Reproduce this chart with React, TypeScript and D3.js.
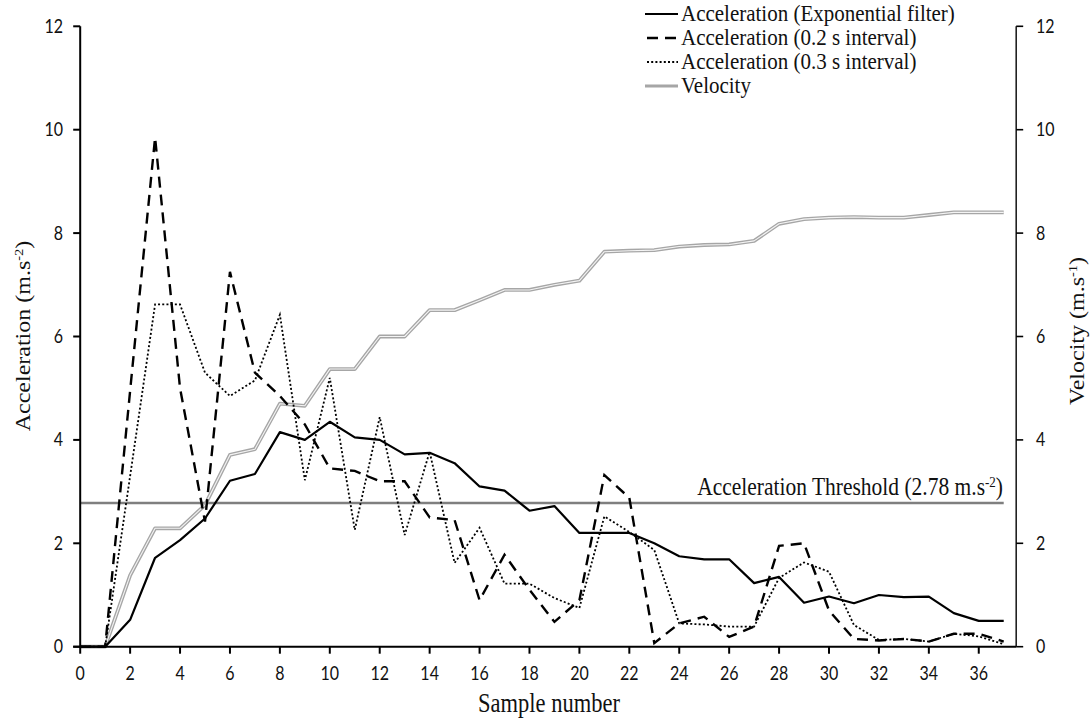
import React from "react";
import * as d3 from "d3";

const samples = d3.range(0, 38);
const expFilter = [0, 0, 0.52, 1.72, 2.06, 2.48, 3.21, 3.34, 4.15, 4.0, 4.35, 4.05, 4.0, 3.72, 3.75, 3.55, 3.1, 3.02, 2.63, 2.72, 2.2, 2.2, 2.2, 2.0, 1.75, 1.69, 1.69, 1.23, 1.35, 0.85, 0.97, 0.84, 1.0, 0.96, 0.97, 0.65, 0.5, 0.5];
const acc02 = [0, 0, 4.95, 9.85, 5.0, 2.42, 7.25, 5.3, 4.85, 4.3, 3.45, 3.4, 3.2, 3.2, 2.5, 2.45, 0.9, 1.78, 1.1, 0.48, 0.9, 3.32, 2.88, 0.07, 0.45, 0.58, 0.19, 0.39, 1.95, 2.0, 0.7, 0.15, 0.12, 0.15, 0.1, 0.25, 0.25, 0.1];
const acc03 = [0, 0, 3.3, 6.62, 6.62, 5.3, 4.85, 5.15, 6.42, 3.22, 5.2, 2.26, 4.44, 2.16, 3.77, 1.62, 2.3, 1.22, 1.22, 0.94, 0.75, 2.52, 2.22, 1.87, 0.45, 0.43, 0.39, 0.39, 1.33, 1.63, 1.45, 0.42, 0.13, 0.15, 0.1, 0.25, 0.2, 0.05];
const velocity = [0, 0, 1.38, 2.29, 2.29, 2.74, 3.71, 3.82, 4.7, 4.66, 5.37, 5.37, 6.0, 6.0, 6.51, 6.51, 6.7, 6.9, 6.9, 7.0, 7.08, 7.64, 7.66, 7.67, 7.74, 7.77, 7.78, 7.85, 8.18, 8.27, 8.3, 8.31, 8.3, 8.3, 8.35, 8.4, 8.4, 8.4];
const threshold = 2.78;
const xTicks = d3.range(0, 37, 2);
const yTicks = d3.range(0, 13, 2);
const legendLabels = [
  "Acceleration (Exponential filter)",
  "Acceleration (0.2 s interval)",
  "Acceleration (0.3 s interval)",
  "Velocity",
];

const SERIF = "'Liberation Serif', 'Times New Roman', serif";
const SANS = "Lato, 'Open Sans', sans-serif";

function T(props: any) {
  const { x, y, anchor = "start", size = 16, family = SANS, rotate = false, children, fill = "#111", sy = 1.2 } = props;
  return (
    <text
      transform={`translate(${x},${y}) scale(1,${sy})${rotate ? " rotate(-90)" : ""}`}
      textAnchor={anchor}
      fontSize={size}
      fontFamily={family}
      fill={fill}
    >
      {children}
    </text>
  );
}

export default function App() {
  const W = 1090, H = 718;
  const x = d3.scaleLinear().domain([0, 37.5]).range([80.2, 1016.2]);
  const y = d3.scaleLinear().domain([0, 12]).range([646.7, 26.3]);
  const line = d3
    .line<number>()
    .x((_, i) => x(samples[i]))
    .y((d) => y(d));

  const legendStyles = [
    { stroke: "#000", width: 2.2, dash: undefined as string | undefined, vel: false },
    { stroke: "#000", width: 2.4, dash: "11,7", vel: false },
    { stroke: "#000", width: 1.8, dash: "2,2.2", vel: false },
    { stroke: "#a6a6a6", width: 3.6, dash: undefined, vel: true },
  ];
  const legendY = [14, 38, 62, 86];

  return (
    <svg width={W} height={H} style={{ position: "absolute", left: 0, top: 0, background: "#fff" }}>
      <rect x={0} y={0} width={W} height={H} fill="#fff" />
      {/* threshold */}
      <line x1={x(0)} x2={x(37)} y1={y(threshold)} y2={y(threshold)} stroke="#7f7f7f" strokeWidth={2.6} />
      {/* velocity double line */}
      <path d={line(velocity) || ""} fill="none" stroke="#a6a6a6" strokeWidth={3.8} strokeLinejoin="round" />
      <path d={line(velocity) || ""} fill="none" stroke="#f4f4f4" strokeWidth={1.1} strokeLinejoin="round" />
      {/* accel 0.3 dotted */}
      <path d={line(acc03) || ""} fill="none" stroke="#000" strokeWidth={1.8} strokeDasharray="2,2.2" />
      {/* accel 0.2 dashed */}
      <path d={line(acc02) || ""} fill="none" stroke="#000" strokeWidth={2.4} strokeDasharray="11,7" />
      {/* exponential */}
      <path d={line(expFilter) || ""} fill="none" stroke="#000" strokeWidth={2.2} strokeLinejoin="round" />

      {/* axes */}
      <line x1={x(0)} x2={x(0)} y1={y(0)} y2={y(12)} stroke="#000" strokeWidth={2} />
      <line x1={x(37.5)} x2={x(37.5)} y1={y(0)} y2={y(12)} stroke="#222" strokeWidth={1.6} />
      <line x1={x(0) - 7} x2={x(37.5)} y1={y(0)} y2={y(0)} stroke="#000" strokeWidth={2} />
      {yTicks.map((t) => (
        <g key={"yl" + t}>
          <line x1={x(0) - 7} x2={x(0)} y1={y(t)} y2={y(t)} stroke="#000" strokeWidth={2} />
          <T x={63} y={y(t) + 6.5} anchor="end" size={16}>{t}</T>
          <line x1={x(37.5)} x2={x(37.5) + 7} y1={y(t)} y2={y(t)} stroke="#000" strokeWidth={1.6} />
          <T x={1036} y={y(t) + 6.5} anchor="start" size={16}>{t}</T>
        </g>
      ))}
      {xTicks.map((t) => (
        <g key={"xt" + t}>
          <line x1={x(t)} x2={x(t)} y1={y(0)} y2={y(0) + 7} stroke="#000" strokeWidth={2} />
          <T x={x(t)} y={680} anchor="middle" size={16}>{t}</T>
        </g>
      ))}

      {/* axis titles */}
      <T x={30} y={336} anchor="middle" size={20} family={SERIF} rotate>
        Acceleration (m.s<tspan dy={-7} fontSize={12}>-2</tspan><tspan dy={7}>)</tspan>
      </T>
      <T x={1084} y={331} anchor="middle" size={20} family={SERIF} rotate>
        Velocity (m.s<tspan dy={-7} fontSize={12}>-1</tspan><tspan dy={7}>)</tspan>
      </T>
      <T x={549} y={712} anchor="middle" size={22.5} family={SERIF}>Sample number</T>

      {/* threshold label */}
      <T x={1003} y={495} anchor="end" size={21.5} family={SERIF}>
        Acceleration Threshold (2.78 m.s<tspan dy={-7} fontSize={13}>-2</tspan><tspan dy={7}>)</tspan>
      </T>

      {/* legend */}
      {legendLabels.map((lab, i) => {
        const s = legendStyles[i];
        const ly = legendY[i];
        return (
          <g key={lab}>
            {s.vel ? (
              <line x1={645} x2={678} y1={ly} y2={ly} stroke="#a6a6a6" strokeWidth={3} />
            ) : (
              <line x1={645} x2={678} y1={ly} y2={ly} stroke={s.stroke} strokeWidth={s.width} strokeDasharray={s.dash} strokeDashoffset={s.dash ? -2 : 0} />
            )}
            <T x={681} y={ly + 6.5} anchor="start" size={21} family={SERIF} sy={1.05}>{lab}</T>
          </g>
        );
      })}
    </svg>
  );
}
